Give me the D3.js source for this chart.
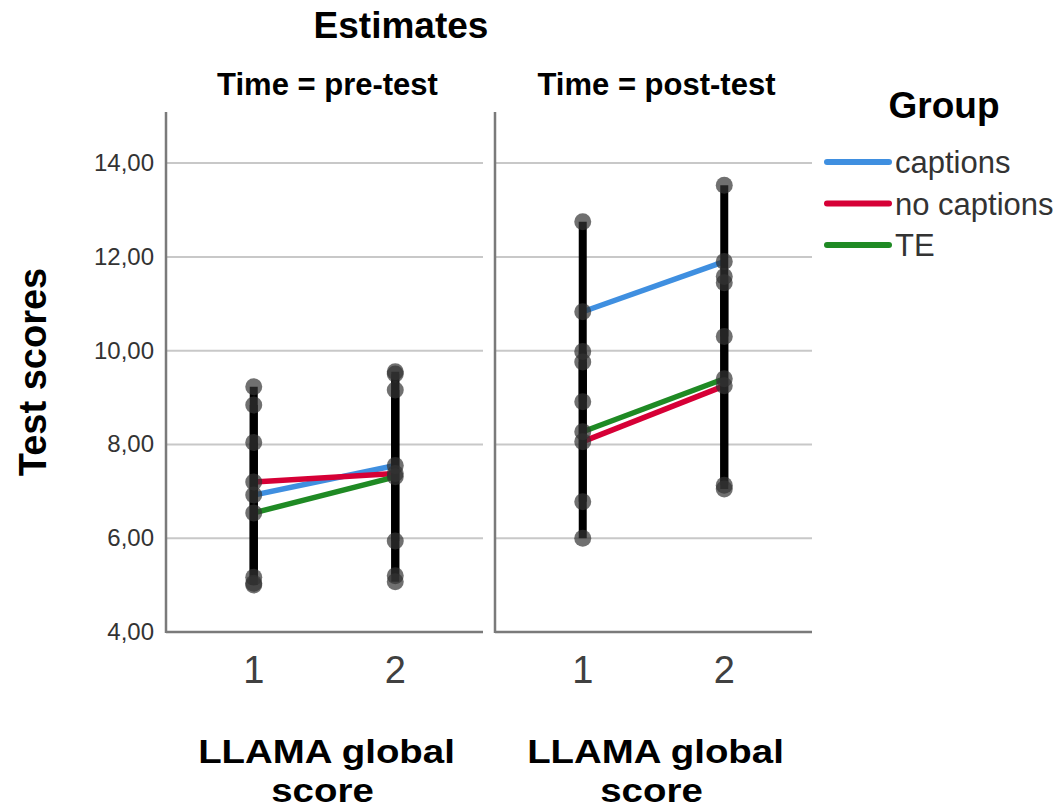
<!DOCTYPE html>
<html>
<head>
<meta charset="utf-8">
<script src="https://cdn.jsdelivr.net/npm/d3@7/dist/d3.min.js"></script>
<style>
  html, body { margin: 0; padding: 0; background: #fff; }
  svg { display: block; font-family: "Liberation Sans", Arial, sans-serif; }
</style>
</head>
<body>
<svg id="chart" width="1064" height="808"></svg>
<script>
// ---- Data ----
const categories = ["1", "2"];
const times = ["pre-test", "post-test"];
const groups = ["captions", "no captions", "TE"];
const yTicks = [4, 6, 8, 10, 12, 14];

// order of values: [pre-test 1, pre-test 2, post-test 1, post-test 2]
const captionsMean = [6.92, 7.55, 10.83, 11.90];
const captionsLow  = [5.00, 5.94, 8.91, 10.30];
const captionsHigh = [8.84, 9.16, 12.75, 13.53];

const noCaptionsMean = [7.20, 7.38, 8.06, 9.25];
const noCaptionsLow  = [5.17, 5.20, 6.00, 7.05];
const noCaptionsHigh = [9.23, 9.50, 9.98, 11.45];

const teMean = [6.54, 7.31, 8.27, 9.40];
const teLow  = [5.04, 5.07, 6.78, 7.13];
const teHigh = [8.04, 9.55, 9.76, 11.58];

const groupColors = ["#3f8fe0", "#d60036", "#1f8a24"];

// ---- Build series ----
const series = [
  { name: groups[0], mean: captionsMean, low: captionsLow, high: captionsHigh, color: groupColors[0] },
  { name: groups[1], mean: noCaptionsMean, low: noCaptionsLow, high: noCaptionsHigh, color: groupColors[1] },
  { name: groups[2], mean: teMean, low: teLow, high: teHigh, color: groupColors[2] }
];

const svg = d3.select("#chart");

const panels = [
  { time: times[0], x0: 166, x1: 483 },
  { time: times[1], x0: 495, x1: 812 }
];
const plotTop = 112, plotBottom = 632;

const y = d3.scaleLinear().domain([4, 15.09]).range([plotBottom, plotTop]);
const fmt = v => d3.format(".2f")(v).replace(".", ",");

// Title
svg.append("text").attr("x", 401).attr("y", 38).attr("text-anchor", "middle")
  .attr("font-size", 37).attr("font-weight", "bold").attr("fill", "#000").text("Estimates");

// Y axis title
svg.append("text").attr("transform", "translate(46,372) rotate(-90)")
  .attr("text-anchor", "middle").attr("font-size", 38).attr("font-weight", "bold")
  .attr("fill", "#000").text("Test scores");

// Y tick labels
svg.append("g").selectAll("text").data(yTicks).join("text")
  .attr("x", 154).attr("y", d => y(d) + 8).attr("text-anchor", "end")
  .attr("font-size", 24).attr("fill", "#333").text(d => fmt(d));

panels.forEach((p, pi) => {
  const g = svg.append("g");
  const x = d3.scalePoint().domain(categories).range([p.x0, p.x1]).padding(0.62);

  // gridlines
  g.selectAll("line.grid").data(yTicks.filter(t => t > 4)).join("line")
    .attr("class", "grid")
    .attr("x1", p.x0).attr("x2", p.x1)
    .attr("y1", d => y(d)).attr("y2", d => y(d))
    .attr("stroke", "#c8c8c8").attr("stroke-width", 2);

  // axis lines
  g.append("line").attr("x1", p.x0).attr("x2", p.x0).attr("y1", plotTop).attr("y2", plotBottom + 1)
    .attr("stroke", "#7a7a7a").attr("stroke-width", 2.5);
  g.append("line").attr("x1", p.x0).attr("x2", p.x1).attr("y1", plotBottom).attr("y2", plotBottom)
    .attr("stroke", "#7a7a7a").attr("stroke-width", 2.5);

  // facet label
  svg.append("text").attr("x", (p.x0 + p.x1) / 2 + 3).attr("y", 95).attr("text-anchor", "middle")
    .attr("font-size", 31).attr("font-weight", "bold").attr("fill", "#000")
    .text("Time = " + p.time);

  // x tick labels
  g.selectAll("text.xt").data(categories).join("text").attr("class", "xt")
    .attr("x", d => x(d)).attr("y", 683).attr("text-anchor", "middle")
    .attr("font-size", 38).attr("fill", "#404040").text(d => d);

  // x axis title (two lines)
  const cx = (p.x0 + p.x1) / 2 + 2;
  svg.append("text").attr("transform", `translate(${cx},763) scale(1.13,1)`)
    .attr("text-anchor", "middle")
    .attr("font-size", 34).attr("font-weight", "bold").attr("fill", "#000").text("LLAMA global");
  svg.append("text").attr("transform", `translate(${cx - 4},802) scale(1.13,1)`)
    .attr("text-anchor", "middle")
    .attr("font-size", 34).attr("font-weight", "bold").attr("fill", "#000").text("score");

  // mean lines
  series.forEach(s => {
    const pts = categories.map((c, ci) => [x(c), y(s.mean[pi * 2 + ci])]);
    g.append("path").attr("d", d3.line()(pts)).attr("fill", "none")
      .attr("stroke", s.color).attr("stroke-width", 5.5);
  });

  // error bars
  series.forEach(s => {
    categories.forEach((c, ci) => {
      const i = pi * 2 + ci;
      g.append("line").attr("x1", x(c)).attr("x2", x(c))
        .attr("y1", y(s.low[i])).attr("y2", y(s.high[i]))
        .attr("stroke", "#000").attr("stroke-width", 8);
    });
  });

  // dots
  series.forEach(s => {
    categories.forEach((c, ci) => {
      const i = pi * 2 + ci;
      [s.low[i], s.mean[i], s.high[i]].forEach(v => {
        g.append("circle").attr("cx", x(c)).attr("cy", y(v)).attr("r", 8.5)
          .attr("fill", "#333").attr("fill-opacity", 0.7);
      });
    });
  });
});

// Legend
svg.append("text").attr("x", 944).attr("y", 118).attr("text-anchor", "middle")
  .attr("font-size", 37).attr("font-weight", "bold").attr("fill", "#000").text("Group");
const legY = d3.scalePoint().domain(groups).range([162, 245]);
const leg = svg.append("g");
series.forEach(s => {
  leg.append("line").attr("x1", 827).attr("x2", 889)
    .attr("y1", legY(s.name)).attr("y2", legY(s.name))
    .attr("stroke", s.color).attr("stroke-width", 6).attr("stroke-linecap", "round");
  leg.append("text").attr("x", 895).attr("y", legY(s.name) + 11)
    .attr("font-size", 31).attr("fill", "#333").text(s.name);
});
</script>
</body>
</html>
